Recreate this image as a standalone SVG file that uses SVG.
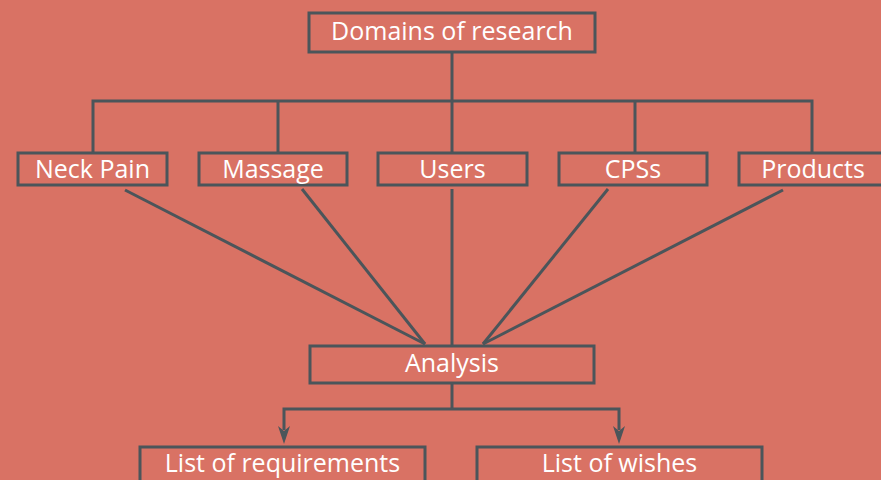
<svg xmlns="http://www.w3.org/2000/svg" width="881" height="480" viewBox="0 0 881 480">
<defs>
<style>
.box{fill:none;stroke:#4b555a;stroke-width:3}
.ln{fill:none;stroke:#4b555a;stroke-width:3}
.t{fill:#ffffff;font-family:"Open Sans","Noto Sans",sans-serif;font-size:25px;text-anchor:middle}
.ah{fill:#4b555a}
</style>
</defs>
<rect width="881" height="480" fill="#d97264"/>
<g id="connectors">
<path class="ln" d="M452,52 V101"/>
<path class="ln" d="M93,153 V101 H812 V153"/>
<path class="ln" d="M278,101 V153"/>
<path class="ln" d="M452,101 V153"/>
<path class="ln" d="M635,101 V153"/>
<path class="ln" d="M125,190 L425,344"/>
<path class="ln" d="M302,189 L425,344"/>
<path class="ln" d="M452,189 V346"/>
<path class="ln" d="M608,189 L483,344"/>
<path class="ln" d="M783,190 L483,344"/>
<path class="ln" d="M452,383 V409"/>
<path class="ln" d="M452,409 H284 V430"/>
<path class="ln" d="M452,409 H619 V430"/>
<path class="ah" d="M278,426 L284,431 L290,426 L284,444 Z"/>
<path class="ah" d="M613,426 L619,431 L625,426 L619,444 Z"/>
</g>
<g id="domains"><rect class="box" x="309" y="13" width="286" height="39"/><text class="t" x="452" y="40">Domains of research</text></g>
<g id="neckpain"><rect class="box" x="18" y="153" width="149" height="32"/><text class="t" x="92.5" y="178">Neck Pain</text></g>
<g id="massage"><rect class="box" x="199" y="153" width="148" height="32"/><text class="t" x="273" y="178">Massage</text></g>
<g id="users"><rect class="box" x="378" y="153" width="149" height="32"/><text class="t" x="452.5" y="178">Users</text></g>
<g id="cpss"><rect class="box" x="559" y="153" width="148" height="32"/><text class="t" x="633" y="178">CPSs</text></g>
<g id="products"><rect class="box" x="739" y="153" width="148" height="32"/><text class="t" x="813" y="178">Products</text></g>
<g id="analysis"><rect class="box" x="310" y="346" width="284" height="37"/><text class="t" x="452" y="372">Analysis</text></g>
<g id="requirements"><rect class="box" x="140" y="447" width="285" height="40"/><text class="t" x="282.5" y="472">List of requirements</text></g>
<g id="wishes"><rect class="box" x="477" y="447" width="285" height="40"/><text class="t" x="619.5" y="472">List of wishes</text></g>
</svg>
